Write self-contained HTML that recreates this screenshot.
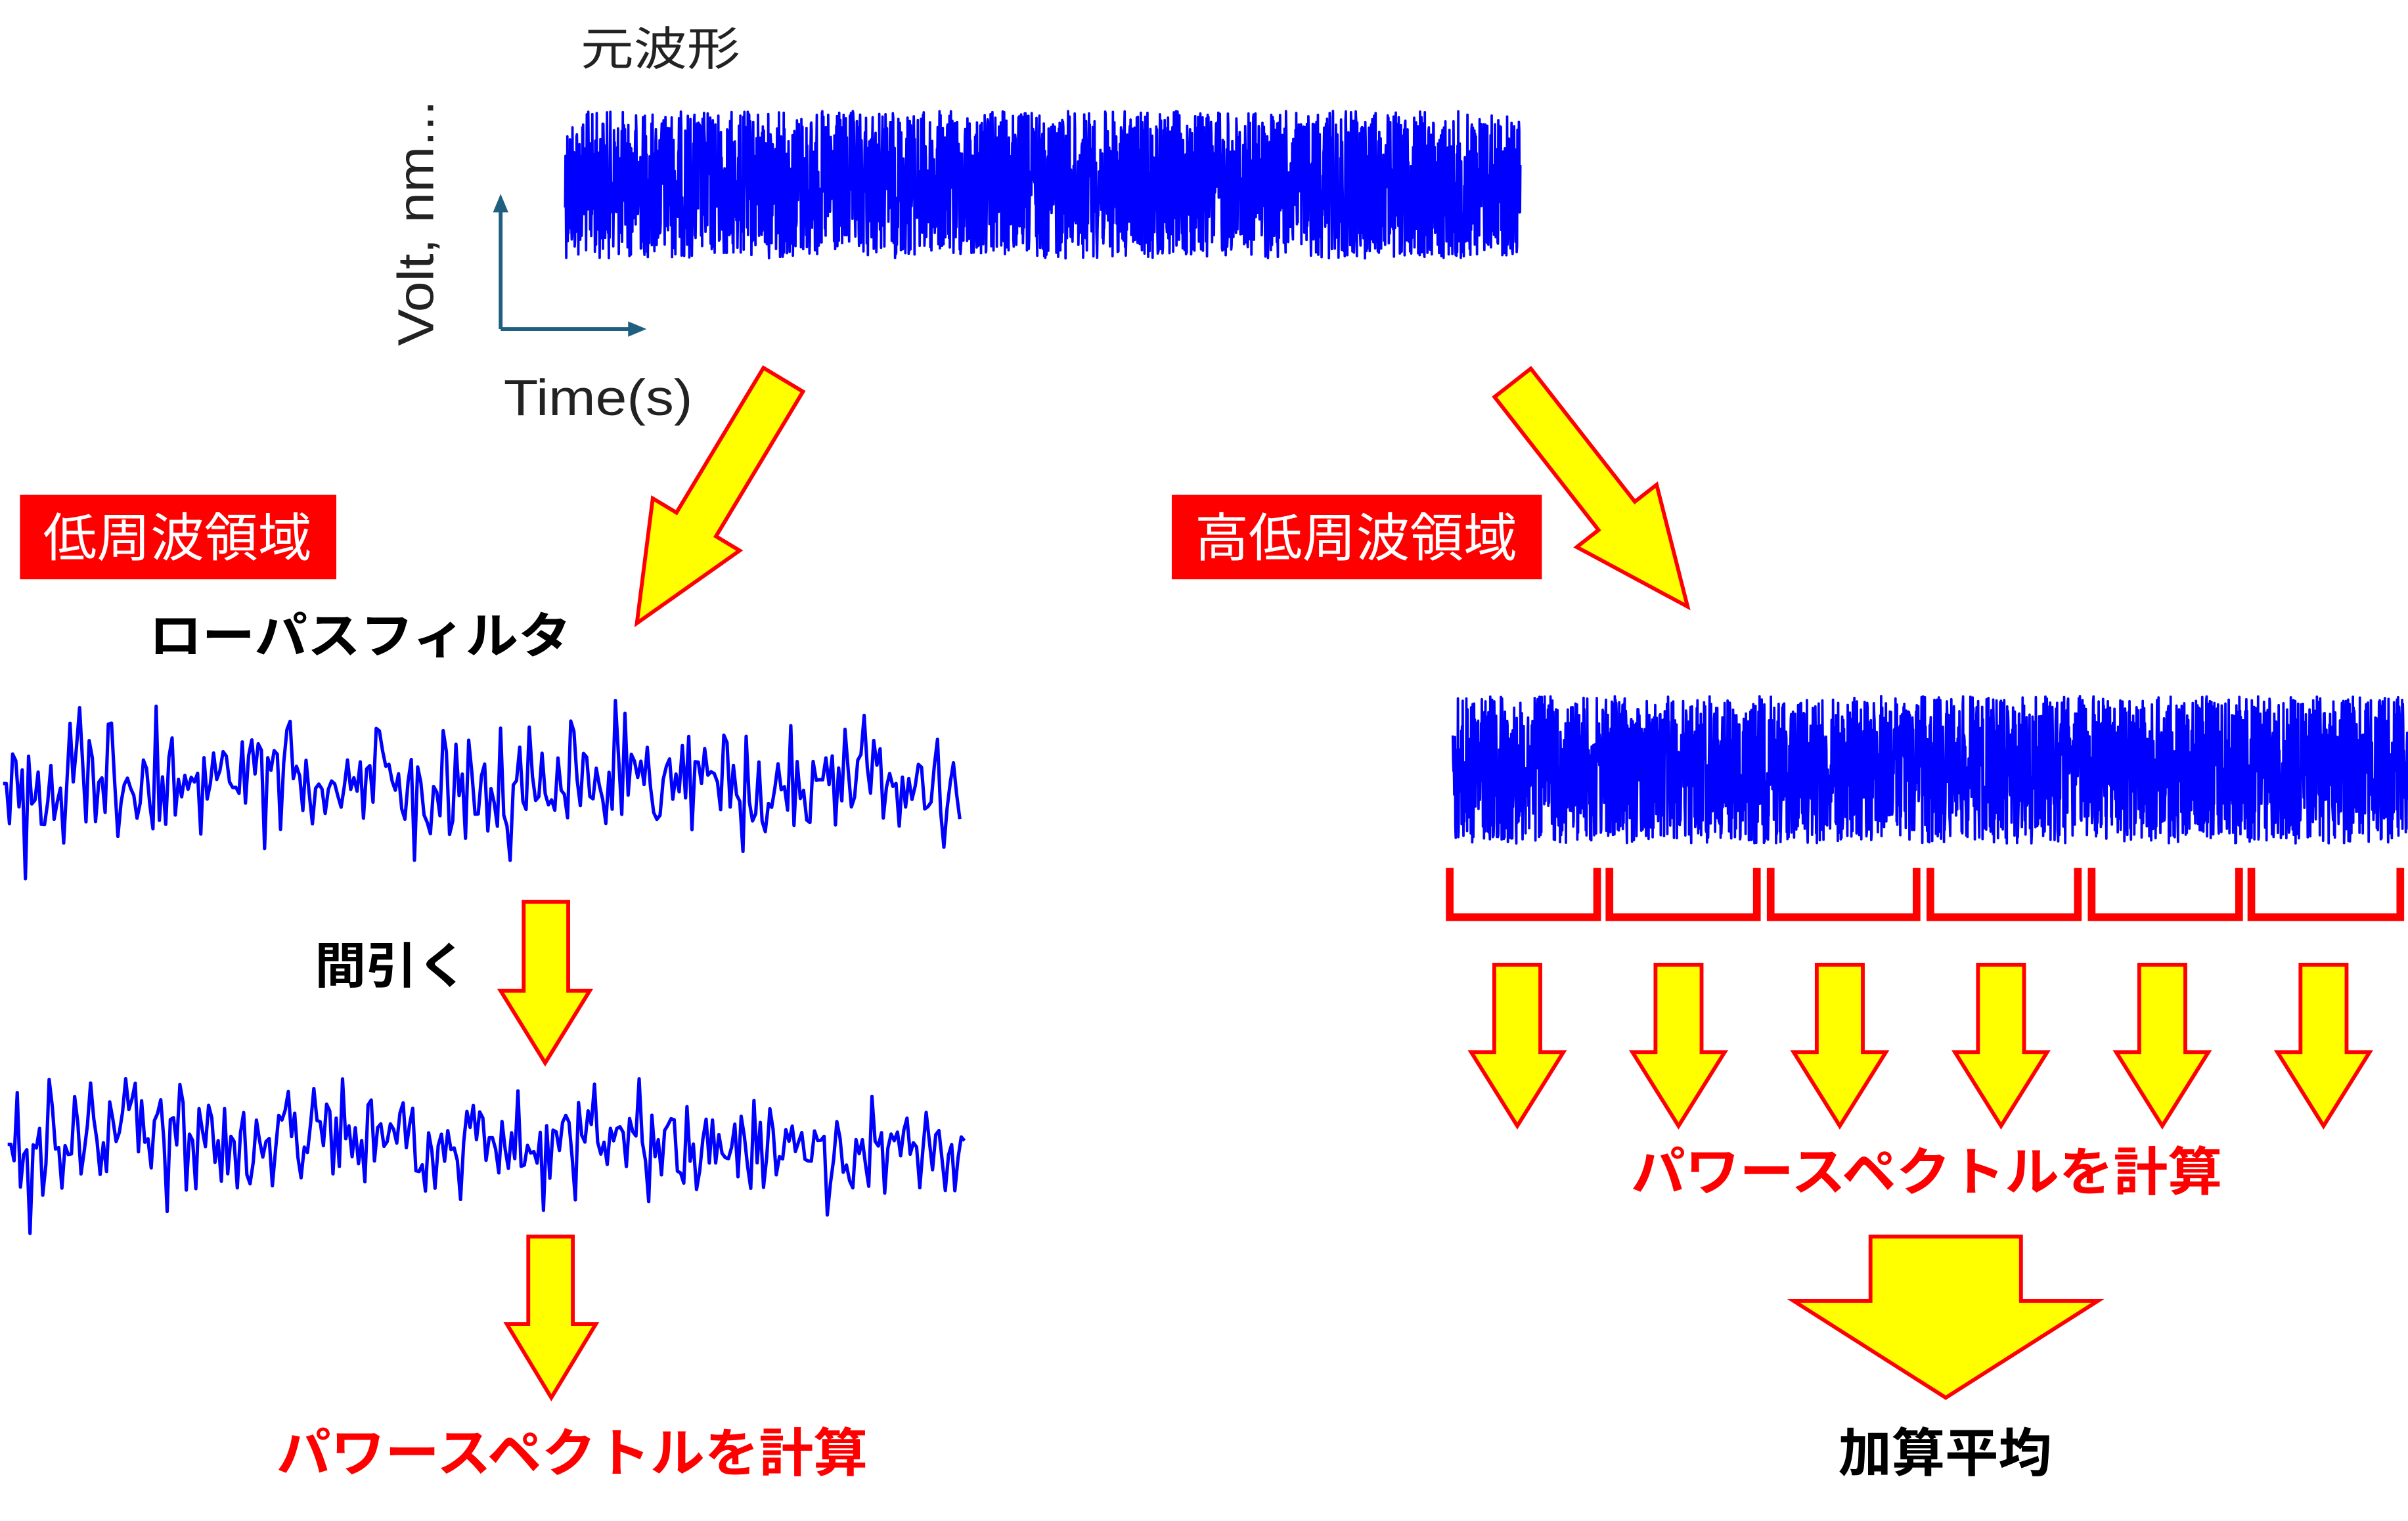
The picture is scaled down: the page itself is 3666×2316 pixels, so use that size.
<!DOCTYPE html>
<html><head><meta charset="utf-8">
<style>
html,body{margin:0;padding:0;background:#fff;}
svg{display:block;}
text{font-family:"Liberation Sans","Noto Sans CJK JP",sans-serif;}
.b{font-weight:bold;}
</style></head>
<body>
<svg id="s" width="3666" height="2316" viewBox="0 0 1568 990" xmlns="http://www.w3.org/2000/svg">
<rect width="1568" height="990" fill="#fff"/>
<text x="378" y="42" font-size="30" fill="#222" textLength="104" lengthAdjust="spacingAndGlyphs">元波形</text>
<text transform="translate(282,225) rotate(-90)" font-size="33" fill="#222" textLength="160" lengthAdjust="spacingAndGlyphs">Volt, nm...</text>
<text x="328" y="270" font-size="33" fill="#222" textLength="123" lengthAdjust="spacingAndGlyphs">Time(s)</text>
<g stroke="#1f5f7f" stroke-width="2.5" fill="#1f5f7f">
<line x1="326" y1="214" x2="326" y2="136"/>
<polygon points="326,126 321,138 331,138" stroke="none"/>
<line x1="326" y1="214" x2="412" y2="214"/>
<polygon points="421,214 409,209 409,219" stroke="none"/>
</g>
<g id="waves" fill="none" stroke="#0000ff" stroke-width="2.2" stroke-linejoin="round"></g>

<g fill="#ffff00" stroke="#ff0000" stroke-width="2.5" stroke-linejoin="miter">
<polygon transform="translate(510,247) rotate(31)" points="-15,0 15,0 15,110 33,110 0,185 -33,110 -15,110"/>
<polygon transform="translate(985,249) rotate(-38)" points="-15,0 15,0 15,110 33,110 0,185 -33,110 -15,110"/>
<polygon points="341,587 370,587 370,645 384,645 355,692 326,645 341,645"/>
<polygon points="344,805 373,805 373,862 388,862 359,910 330,862 344,862"/>
<g id="small"></g>
<polygon points="1218,805 1316,805 1316,847 1366,847 1267,910 1168,847 1218,847"/>
</g>
<rect x="13" y="322" width="206" height="55" fill="#ff0000"/>
<text x="28" y="362" font-size="34" fill="#fff" textLength="175" lengthAdjust="spacingAndGlyphs">低周波領域</text>
<rect x="763" y="322" width="241" height="55" fill="#ff0000"/>
<text x="778" y="362" font-size="34" fill="#fff" textLength="210" lengthAdjust="spacingAndGlyphs">高低周波領域</text>
<text x="97" y="425" font-size="32" class="b" fill="#000" textLength="275" lengthAdjust="spacingAndGlyphs">ローパスフィルタ</text>
<text x="205" y="640" font-size="32" class="b" fill="#000" textLength="100" lengthAdjust="spacingAndGlyphs">間引く</text>
<text x="180" y="958" font-size="34" class="b" fill="#ff0000" textLength="385" lengthAdjust="spacingAndGlyphs">パワースペクトルを計算</text>
<text x="1062" y="775" font-size="34" class="b" fill="#ff0000" textLength="385" lengthAdjust="spacingAndGlyphs">パワースペクトルを計算</text>
<text x="1197" y="958" font-size="34" class="b" fill="#000" textLength="139" lengthAdjust="spacingAndGlyphs">加算平均</text>
<g id="br" fill="none" stroke="#ff0000" stroke-width="5"></g>
</svg>
<script>
var NS="http://www.w3.org/2000/svg";
var seed=12345;function r(){seed=(seed*1103515245+12345)%2147483648;return seed/2147483648;}
function g(){return (r()+r()+r()+r()-2)*1.3;}
var W=document.getElementById("waves");
function dense(x0,x1,yc,amp,n){var p=[];for(var i=0;i<=n;i++){var x=x0+(x1-x0)*i/n;var v=(r()*2-1);p.push(x.toFixed(2)+","+(yc+v*amp).toFixed(2));}
var e=document.createElementNS(NS,"polyline");e.setAttribute("points",p.join(" "));e.setAttribute("stroke-width","1.6");W.appendChild(e);}
function lp(x0,x1,yc,amp,n,first,top,bot){var p=[];for(var i=0;i<=n;i++){var x=x0+(x1-x0)*i/n;var v=g()*amp;if(v>bot)v=bot;if(v<-top)v=-top;if(i<2)v=0;if(i==first)v=bot+12;p.push(x.toFixed(2)+","+(yc+v).toFixed(2));}
var e=document.createElementNS(NS,"polyline");e.setAttribute("points",p.join(" "));W.appendChild(e);}
dense(368,990,120,48,2600);
dense(946,1568,501,48,2600);
lp(2,625,510,26,300,7,64,50);
lp(5,628,745,24,300,7,58,46);
var S=document.getElementById("small");
[988,1093,1198,1303,1408,1513].forEach(function(c){var e=document.createElementNS(NS,"polygon");
e.setAttribute("points",[[c-15,628],[c+15,628],[c+15,685],[c+30,685],[c,733],[c-30,685],[c-15,685]].map(function(a){return a.join(",")}).join(" "));S.appendChild(e);});
var B=document.getElementById("br");
[[944,1040],[1048,1144],[1153,1248],[1257,1353],[1362,1458],[1466,1563]].forEach(function(a){var e=document.createElementNS(NS,"polyline");
e.setAttribute("points",a[0]+",565 "+a[0]+",597 "+a[1]+",597 "+a[1]+",565");B.appendChild(e);});
</script>
</body></html>
